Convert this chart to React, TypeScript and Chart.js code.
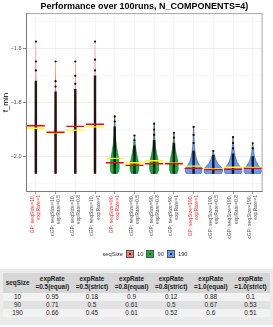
import React, { useEffect, useRef } from 'react';
import { Chart, registerables } from 'chart.js';
Chart.register(...registerables);

const FONT = '"Liberation Sans", Arial, sans-serif';

const categories: string[][] = [
  ['GP; seqSize=10,', 'expRate=1'],
  ['cGP; seqSize=10,', 'expRate=0.5'],
  ['cGP; seqSize=10,', 'expRate=0.8'],
  ['cGP; seqSize=10,', 'expRate=1'],
  ['GP; seqSize=90,', 'expRate=1'],
  ['cGP; seqSize=90,', 'expRate=0.5'],
  ['cGP; seqSize=90,', 'expRate=0.8'],
  ['cGP; seqSize=90,', 'expRate=1'],
  ['GP; seqSize=190,', 'expRate=1'],
  ['cGP; seqSize=190,', 'expRate=0.5'],
  ['cGP; seqSize=190,', 'expRate=0.8'],
  ['cGP; seqSize=190,', 'expRate=1'],
];
const isGP = [true, false, false, false, true, false, false, false, true, false, false, false];
const catSeqSize = [10, 10, 10, 10, 90, 90, 90, 90, 190, 190, 190, 190];

const legendSizes = [10, 90, 190];
const legendColors = ['#F8766D', '#00BA38', '#619CFF'];

// f_min values
const minValues = [-2.063, -2.063, -2.063, -2.063, -2.063, -2.063, -2.063, -2.063, -2.063, -2.063, -2.063, -2.063];
const denseTop = [-1.72, -1.76, -1.75, -1.70, -1.89, -1.96, -1.94, -1.95, -1.98, -1.995, -1.99, -2.0];
const maxValues = [-1.573, -1.647, -1.647, -1.573, -1.851, -1.922, -1.878, -1.912, -1.890, -1.980, -1.928, -1.951];
const outliers2 = [-1.647, -1.72, -1.70, -1.64, -1.87, -1.94, -1.90, -1.93, -1.92, null, -1.95, -1.97];
const outliers3 = [-1.68, -1.74, -1.73, -1.68, null, null, -1.92, null, -1.95, null, -1.97, null];
const meanValues = [-1.886, -1.910, -1.888, -1.880, -2.023, -2.033, -2.027, -2.027, -2.044, -2.049, -2.048, -2.044];
const medianValues = [-1.895, -1.912, -1.902, -1.890, -2.007, -2.023, -2.016, -2.025, -2.036, -2.046, -2.040, -2.041];

// violin density profiles: [f_min, half width as fraction of category]
const violin1 = [[-2.063, 0.05], [-1.95, 0.06], [-1.85, 0.05], [-1.75, 0.03], [-1.573, 0.01]];
const violin2 = [[-2.063, 0.05], [-1.95, 0.06], [-1.85, 0.05], [-1.76, 0.03], [-1.647, 0.01]];
const violin3 = [[-2.063, 0.05], [-1.95, 0.06], [-1.85, 0.05], [-1.76, 0.03], [-1.647, 0.01]];
const violin4 = [[-2.063, 0.05], [-1.95, 0.06], [-1.85, 0.05], [-1.75, 0.03], [-1.573, 0.01]];
const violin5 = [[-2.063, 0.15], [-2.055, 0.21], [-2.04, 0.23], [-2.02, 0.22], [-2.0, 0.18], [-1.975, 0.12], [-1.95, 0.07], [-1.92, 0.035], [-1.88, 0.02], [-1.851, 0.01]];
const violin6 = [[-2.063, 0.16], [-2.05, 0.22], [-2.035, 0.23], [-2.02, 0.2], [-2.0, 0.14], [-1.98, 0.09], [-1.96, 0.05], [-1.94, 0.03], [-1.922, 0.01]];
const violin7 = [[-2.063, 0.16], [-2.05, 0.23], [-2.03, 0.23], [-2.01, 0.19], [-1.99, 0.13], [-1.965, 0.07], [-1.935, 0.035], [-1.9, 0.02], [-1.878, 0.01]];
const violin8 = [[-2.063, 0.16], [-2.05, 0.22], [-2.03, 0.22], [-2.01, 0.18], [-1.99, 0.12], [-1.97, 0.07], [-1.945, 0.035], [-1.912, 0.01]];
const violin9 = [[-2.063, 0.38], [-2.055, 0.43], [-2.045, 0.42], [-2.035, 0.32], [-2.02, 0.2], [-2.0, 0.12], [-1.98, 0.07], [-1.95, 0.035], [-1.92, 0.02], [-1.89, 0.01]];
const violin10 = [[-2.063, 0.42], [-2.055, 0.47], [-2.045, 0.45], [-2.035, 0.35], [-2.025, 0.22], [-2.01, 0.12], [-1.995, 0.05], [-1.98, 0.01]];
const violin11 = [[-2.063, 0.4], [-2.055, 0.45], [-2.045, 0.43], [-2.035, 0.33], [-2.02, 0.2], [-2.0, 0.11], [-1.98, 0.06], [-1.955, 0.03], [-1.928, 0.01]];
const violin12 = [[-2.063, 0.4], [-2.055, 0.45], [-2.045, 0.42], [-2.035, 0.31], [-2.02, 0.18], [-2.0, 0.09], [-1.98, 0.045], [-1.951, 0.01]];
const violins = [violin1, violin2, violin3, violin4, violin5, violin6, violin7, violin8, violin9, violin10, violin11, violin12];

// table
const tableHeader = ['seqSize', 'expRate\n=0.5(equal)', 'expRate\n=0.5(strict)', 'expRate\n=0.8(equal)', 'expRate\n=0.8(strict)', 'expRate\n=1.0(equal)', 'expRate\n=1.0(strict)'];
const tableSeqSizes = ['10', '90', '190'];
const tableRow10 = ['0.95', '0.18', '0.9', '0.12', '0.88', '0.1'];
const tableRow90 = ['0.71', '0.5', '0.61', '0.5', '0.67', '0.53'];
const tableRow190 = ['0.66', '0.45', '0.61', '0.52', '0.6', '0.51'];
const tableRows = [tableRow10, tableRow90, tableRow190];

const colorFor = (s: number) => legendColors[legendSizes.indexOf(s)];

const violinPlugin = {
  id: 'violins',
  beforeDatasetsDraw(chart: any) {
    const { ctx, chartArea } = chart;
    const xs = chart.scales.x;
    const ys = chart.scales.y;
    const step = xs.getPixelForValue(1) - xs.getPixelForValue(0);
    ctx.save();
    ctx.beginPath();
    ctx.rect(chartArea.left, chartArea.top, chartArea.right - chartArea.left, chartArea.bottom - chartArea.top);
    ctx.clip();
    violins.forEach((prof, i) => {
      const cx = xs.getPixelForValue(i);
      const pts = prof.map(([v, w]) => [ys.getPixelForValue(v), w * step]);
      ctx.beginPath();
      ctx.moveTo(cx, pts[0][0]);
      pts.forEach(([py, hw]) => ctx.lineTo(cx + hw, py));
      ctx.lineTo(cx, pts[pts.length - 1][0]);
      for (let k = pts.length - 1; k >= 0; k--) ctx.lineTo(cx - pts[k][1], pts[k][0]);
      ctx.closePath();
      ctx.fillStyle = colorFor(catSeqSize[i]);
      ctx.fill();
      if (catSeqSize[i] !== 10) {
        ctx.lineWidth = 0.5;
        ctx.strokeStyle = '#444444';
        ctx.stroke();
      }
    });
    ctx.restore();
  },
  afterDatasetsDraw(chart: any) {
    const { ctx, chartArea: a } = chart;
    ctx.save();
    ctx.strokeStyle = '#a6a6a6';
    ctx.lineWidth = 1;
    ctx.strokeRect(a.left + 0.5, a.top + 0.5, a.right - a.left - 1, a.bottom - a.top - 1);
    ctx.strokeStyle = '#7a7a7a';
    ctx.beginPath();
    ctx.moveTo(a.left + 0.5, a.top);
    ctx.lineTo(a.left + 0.5, a.bottom - 0.5);
    ctx.lineTo(a.right, a.bottom - 0.5);
    ctx.stroke();
    ctx.restore();
  },
};

function ChartView() {
  const ref = useRef<HTMLCanvasElement>(null);
  useEffect(() => {
    if (!ref.current) return;
    const lineStyle = (data: any[], color: string, order: number) => ({
      type: 'line' as const,
      data,
      showLine: false,
      pointStyle: 'line',
      pointRadius: 9,
      pointBorderWidth: 1.4,
      pointBorderColor: color,
      pointBackgroundColor: color,
      order,
    });
    const dots = (data: any[], order: number) => ({
      type: 'line' as const,
      data,
      showLine: false,
      pointStyle: 'circle',
      pointRadius: 1.1,
      pointBorderWidth: 0,
      pointBackgroundColor: '#000000',
      order,
    });
    const chart = new Chart(ref.current, {
      type: 'bar',
      data: {
        labels: categories,
        datasets: [
          lineStyle(meanValues, '#ff0000', 0),
          lineStyle(medianValues, '#ffff00', 1),
          dots(maxValues, 2),
          dots(outliers2, 2),
          dots(outliers3, 2),
          {
            type: 'bar' as const,
            data: minValues.map((m, i) => [m, denseTop[i]]),
            backgroundColor: 'rgba(0,0,0,0.85)',
            barThickness: 1.8,
            order: 3,
          } as any,
        ],
      },
      options: {
        animation: false,
        responsive: false,
        layout: { padding: { left: 0, right: 4, top: 0, bottom: 0 } },
        plugins: {
          legend: { display: false },
          tooltip: { enabled: false },
          title: {
            display: true,
            text: 'Performance over 100runs, N_COMPONENTS=4)',
            fullSize: false,
            color: '#000000',
            font: { family: FONT, size: 9, weight: 'bold' },
            padding: { top: 1.5, bottom: 0.8 },
          },
        },
        scales: {
          x: {
            type: 'category',
            offset: true,
            grid: {
              offset: false,
              color: '#efefef',
              lineWidth: 0.6,
              tickColor: '#555555',
              tickLength: 2,
            },
            border: { display: false },
            ticks: {
              autoSkip: false,
              minRotation: 90,
              maxRotation: 90,
              padding: 1,
              labelOffset: -3,
              font: { family: FONT, size: 5.1, lineHeight: 1.2 },
              color: (c: any) => (isGP[c.index] ? '#ff2020' : '#4d4d4d'),
            },
            afterFit: (s: any) => { s.height = 73; },
          },
          y: {
            type: 'linear',
            min: -2.132,
            max: -1.467,
            grid: {
              color: (c: any) => {
                const v = Math.round((c.tick?.value ?? 0) * 10);
                return v % 2 === 0 ? '#e6e6e6' : '#f4f4f4';
              },
              lineWidth: 0.7,
              tickColor: (c: any) => {
                const v = Math.round((c.tick?.value ?? 0) * 10);
                return v % 2 === 0 ? '#555555' : 'rgba(0,0,0,0)';
              },
              tickLength: 3,
            },
            border: { display: false },
            ticks: {
              stepSize: 0.1,
              includeBounds: false,
              padding: 1.5,
              color: '#4d4d4d',
              font: { family: FONT, size: 5.5 },
              callback: (v: any) => {
                const n = Math.round(Number(v) * 10);
                return n % 2 === 0 ? (n / 10).toFixed(1).replace('-', '\u2212') : '';
              },
            },
            title: {
              display: true,
              text: 'f_min',
              color: '#000000',
              font: { family: FONT, size: 8 },
              padding: { top: 0.5, bottom: 0 },
            },
            afterFit: (s: any) => { s.width = 26; },
          },
        },
      },
      plugins: [violinPlugin],
    } as any);
    return () => chart.destroy();
  }, []);
  return <canvas ref={ref} width={273} height={265} style={{ position: 'absolute', left: 0, top: 0, width: 273, height: 265 }} />;
}

export default function App() {
  useEffect(() => {
    document.body.style.margin = '0';
  }, []);
  const cellBase: React.CSSProperties = { padding: '0 2px', textAlign: 'center', whiteSpace: 'pre', lineHeight: '8px' };
  return (
    <div style={{ position: 'relative', width: 273, height: 327, background: '#ffffff', fontFamily: FONT, overflow: 'hidden' }}>
      <ChartView />
      <div style={{ position: 'absolute', top: 250, left: 0, width: 293, display: 'flex', justifyContent: 'center', alignItems: 'center', fontSize: 5.8, color: '#333333', height: 8 }}>
        <span style={{ marginRight: 3 }}>seqSize</span>
        {legendSizes.map((s, i) => (
          <span key={s} style={{ display: 'flex', alignItems: 'center', marginRight: 3 }}>
            <span style={{ width: 6, height: 6, background: legendColors[i], border: '0.5px solid #555', position: 'relative', marginRight: 3, display: 'inline-block' }}>
              <span style={{ position: 'absolute', left: 2, top: 2, width: 2, height: 2, borderRadius: 1, background: '#000' }} />
            </span>
            <span>{s}</span>
          </span>
        ))}
      </div>
      <div style={{ position: 'absolute', top: 269, left: 0, width: 273, height: 56, background: '#ebebeb' }}>
        <table style={{ borderCollapse: 'separate', borderSpacing: '0 0', marginLeft: 3, marginTop: 4, width: 267, fontSize: 6.4, color: '#222' }}>
          <thead>
            <tr style={{ background: '#d6d6d6' }}>
              {tableHeader.map((h, i) => (
                <th key={i} style={{ ...cellBase, height: 20, fontWeight: 'bold', padding: '0 1px' }}>{h}</th>
              ))}
            </tr>
          </thead>
          <tbody>
            {tableRows.map((r, ri) => (
              <tr key={ri} style={{ background: ri % 2 === 1 ? '#e2e2e2' : '#f2f2f2' }}>
                <td style={{ ...cellBase, height: 8 }}>{tableSeqSizes[ri]}</td>
                {r.map((v, ci) => (
                  <td key={ci} style={{ ...cellBase, height: 8 }}>{v}</td>
                ))}
              </tr>
            ))}
          </tbody>
        </table>
      </div>
    </div>
  );
}
